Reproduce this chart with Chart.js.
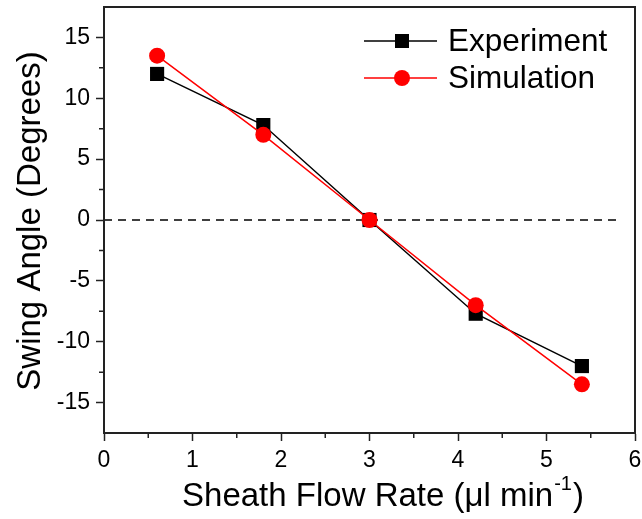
<!DOCTYPE html>
<html>
<head>
<meta charset="utf-8">
<script src="https://cdn.jsdelivr.net/npm/chart.js@4/dist/chart.umd.min.js"></script>
<style>
  body { margin: 0; background: #fff; }
  #wrap { width: 642px; height: 519px; }
</style>
</head>
<body>
<div id="wrap"><canvas id="myChart"></canvas></div>
<script>
// flow rates (ul/min) and swing angles (degrees)
var flowRates = [0.6, 1.8, 3.0, 4.2, 5.4];
var experiment = [12.0, 7.8, 0.0, -7.7, -12.0];
var simulation = [13.5, 7.0, 0.0, -7.0, -13.5];
var zeroLineX = [0, 5.8];
var xTicks = [0, 1, 2, 3, 4, 5, 6];
var xMinor = [0.5, 1.5, 2.5, 3.5, 4.5, 5.5];
var yTicks = [-15, -10, -5, 0, 5, 10, 15];
var yMinor = [-12.5, -7.5, -2.5, 2.5, 7.5, 12.5];

var font = '"Liberation Sans", Arial, sans-serif';

function pts(xs, ys) {
  var out = [];
  for (var i = 0; i < xs.length; i++) out.push({x: xs[i], y: ys[i]});
  return out;
}

function noPad(s) {
  s.paddingTop = 0; s.paddingBottom = 0;
  s.paddingLeft = 0; s.paddingRight = 0;
}

// box, minor ticks, axis titles and legend
var extras = {
  id: 'extras',
  afterDraw: function(chart) {
    var ctx = chart.ctx;
    var a = chart.chartArea;
    var xs = chart.scales.x, ys = chart.scales.y;
    ctx.save();
    ctx.strokeStyle = '#222';
    ctx.lineWidth = 2;
    ctx.strokeRect(a.left, a.top, a.right - a.left, a.bottom - a.top);

    ctx.lineWidth = 1.5;
    ctx.beginPath();
    xMinor.forEach(function(v) {
      var px = xs.getPixelForValue(v);
      ctx.moveTo(px, a.bottom);
      ctx.lineTo(px, a.bottom + 5);
    });
    yMinor.forEach(function(v) {
      var py = ys.getPixelForValue(v);
      ctx.moveTo(a.left, py);
      ctx.lineTo(a.left - 5, py);
    });
    ctx.stroke();

    // x title with superscript
    ctx.fillStyle = '#000';
    ctx.textBaseline = 'alphabetic';
    ctx.textAlign = 'left';
    var main = 'Sheath Flow Rate (\u03bcl min';
    ctx.font = '33px ' + font;
    var w1 = ctx.measureText(main).width;
    ctx.font = '20px ' + font;
    var w2 = ctx.measureText('-1').width;
    ctx.font = '33px ' + font;
    var w3 = ctx.measureText(')').width;
    var x0 = 382 - (w1 + w2 + w3) / 2;
    ctx.fillText(main, x0, 506);
    ctx.font = '20px ' + font;
    ctx.fillText('-1', x0 + w1 + 1, 490);
    ctx.font = '33px ' + font;
    ctx.fillText(')', x0 + w1 + w2 + 2, 506);

    // y title
    ctx.save();
    ctx.translate(40, 221);
    ctx.rotate(-Math.PI / 2);
    ctx.textAlign = 'center';
    ctx.fillText('Swing Angle (Degrees)', 0, 0);
    ctx.restore();

    // legend
    var rows = [
      {label: 'Experiment', color: '#000', shape: 'rect', y: 41},
      {label: 'Simulation', color: '#ff0000', shape: 'circle', y: 78}
    ];
    rows.forEach(function(r) {
      ctx.strokeStyle = r.color;
      ctx.lineWidth = 1.5;
      ctx.beginPath();
      ctx.moveTo(364, r.y);
      ctx.lineTo(437, r.y);
      ctx.stroke();
      ctx.fillStyle = r.color;
      if (r.shape === 'rect') {
        ctx.fillRect(402 - 7, r.y - 7, 14, 14);
      } else {
        ctx.beginPath();
        ctx.arc(402, r.y, 8, 0, Math.PI * 2);
        ctx.fill();
      }
      ctx.fillStyle = '#000';
      ctx.font = '31.5px ' + font;
      ctx.textAlign = 'left';
      ctx.textBaseline = 'middle';
      ctx.fillText(r.label, 448, r.y + 1);
    });
    ctx.restore();
  }
};

var data = {
  datasets: [{
    label: 'zero',
    data: pts(zeroLineX, [0, 0]),
    borderColor: '#000',
    borderWidth: 1.5,
    borderDash: [8, 6],
    pointRadius: 0,
    order: 3
  }, {
    label: 'Experiment',
    data: pts(flowRates, experiment),
    borderColor: '#000',
    backgroundColor: '#000',
    borderWidth: 1.5,
    pointStyle: 'rect',
    pointRadius: 10,
    pointBorderWidth: 0,
    order: 2
  }, {
    label: 'Simulation',
    data: pts(flowRates, simulation),
    borderColor: '#ff0000',
    backgroundColor: '#ff0000',
    borderWidth: 1.5,
    pointStyle: 'circle',
    pointRadius: 8,
    pointBorderWidth: 0,
    order: 1
  }]
};

const config = {
  type: 'line',
  data: data,
  options: {
    responsive: true,
    maintainAspectRatio: false,
    animation: false,
    layout: { autoPadding: false, padding: { top: 7, right: 7, left: 0, bottom: 0 } },
    plugins: { legend: { display: false }, tooltip: { enabled: false } },
    scales: {
      x: {
        type: 'linear',
        min: 0, max: 6,
        afterBuildTicks: function(s) { s.ticks = xTicks.map(function(v) { return {value: v}; }); },
        afterFit: function(s) { s.height = 86; noPad(s); },
        grid: { drawOnChartArea: false, tickLength: 8, tickColor: '#222', tickWidth: 1.5 },
        border: { color: '#222', width: 2 },
        ticks: { color: '#000', font: { family: font, size: 23 }, padding: 6, maxRotation: 0 }
      },
      y: {
        type: 'linear',
        min: -17.5, max: 17.5,
        afterBuildTicks: function(s) { s.ticks = yTicks.map(function(v) { return {value: v}; }); },
        afterFit: function(s) { s.width = 104; noPad(s); },
        grid: { drawOnChartArea: false, tickLength: 8, tickColor: '#222', tickWidth: 1.5 },
        border: { color: '#222', width: 2 },
        ticks: { color: '#000', font: { family: font, size: 23 }, padding: 6 }
      }
    }
  },
  plugins: [extras]
};

const myChart = new Chart(document.getElementById('myChart'), config);
</script>
</body>
</html>
